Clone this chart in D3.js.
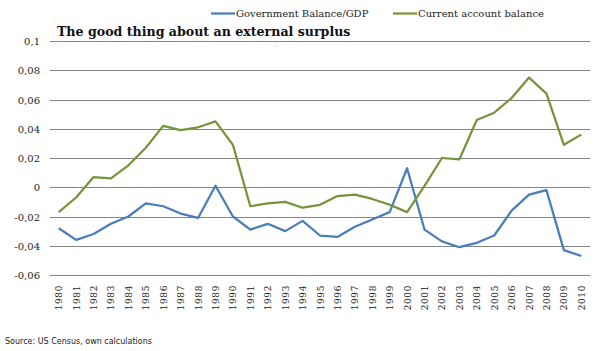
<!DOCTYPE html>
<html>
<head>
<meta charset="utf-8">
<script src="https://cdn.jsdelivr.net/npm/d3@7"></script>
<style>
  body { margin: 0; background: #fff; }
  svg { display: block; }
</style>
</head>
<body>
<div id="container"></div>
<script>
const years = d3.range(1980, 2011).map(String);
const govBalance = [-0.028, -0.036, -0.032, -0.025, -0.020, -0.011, -0.013, -0.018, -0.021, 0.001,
    -0.020, -0.029, -0.025, -0.030, -0.023, -0.033, -0.034, -0.027, -0.022, -0.017,
    0.013, -0.029, -0.037, -0.041, -0.038, -0.033, -0.016, -0.005, -0.002, -0.043, -0.047];
const currentAccount = [-0.017, -0.007, 0.007, 0.006, 0.015, 0.027, 0.042, 0.039, 0.041, 0.045,
    0.029, -0.013, -0.011, -0.010, -0.014, -0.012, -0.006, -0.005, -0.008, -0.012,
    -0.017, 0.001, 0.020, 0.019, 0.046, 0.051, 0.061, 0.075, 0.064, 0.029, 0.036];
const yTicks = [-0.06, -0.04, -0.02, 0, 0.02, 0.04, 0.06, 0.08, 0.1];
const seriesNames = ["Government Balance/GDP", "Current account balance"];
const colors = ["#4a7ebb", "#77933c"];

const width = 603, height = 351;
const plot = { left: 50, right: 590, top: 41, bottom: 275 };

const svg = d3.select("#container").append("svg")
    .attr("width", width)
    .attr("height", height);

const x = d3.scaleBand().domain(years).range([plot.left, plot.right]);
const y = d3.scaleLinear().domain([-0.06, 0.1]).range([plot.bottom, plot.top]);

const fmt = v => (v === 0 ? "0" : d3.format(v === 0.1 ? ".1f" : ".2f")(v)).replace(".", ",").replace("−", "-");

// gridlines
svg.append("g")
    .selectAll("line")
    .data(yTicks)
    .join("line")
    .attr("x1", plot.left)
    .attr("x2", plot.right)
    .attr("y1", d => Math.round(y(d)) + 0.5)
    .attr("y2", d => Math.round(y(d)) + 0.5)
    .attr("stroke", "#858585")
    .attr("stroke-width", 1);

// y tick labels
svg.append("g")
    .selectAll("text")
    .data(yTicks)
    .join("text")
    .attr("x", 40)
    .attr("y", d => y(d) + 4)
    .attr("text-anchor", "end")
    .style("font-family", "'DejaVu Serif', serif")
    .style("font-size", "10px")
    .style("fill", "#222")
    .text(fmt);

// x labels
svg.append("g")
    .selectAll("text")
    .data(years)
    .join("text")
    .attr("transform", d => `translate(${x(d) + x.bandwidth() / 2 + 3.5},${plot.bottom + 10}) rotate(-90)`)
    .attr("text-anchor", "end")
    .style("font-family", "'DejaVu Serif', serif")
    .style("font-size", "9px")
    .style("letter-spacing", "0.6px")
    .style("fill", "#222")
    .text(d => d);

const line = d3.line()
    .x((d, i) => x(years[i]) + x.bandwidth() / 2)
    .y(d => y(d));

[govBalance, currentAccount].forEach((s, i) => {
    svg.append("path")
        .datum(s)
        .attr("fill", "none")
        .attr("stroke", colors[i])
        .attr("stroke-width", 2.25)
        .attr("stroke-linejoin", "round")
        .attr("d", line);
});

// legend
const legendX = [211, 393];
seriesNames.forEach((name, i) => {
    svg.append("line")
        .attr("x1", legendX[i])
        .attr("x2", legendX[i] + 24)
        .attr("y1", 13.5)
        .attr("y2", 13.5)
        .attr("stroke", colors[i])
        .attr("stroke-width", 2.25);
    svg.append("text")
        .attr("x", legendX[i] + 25)
        .attr("y", 17)
        .style("font-family", "'DejaVu Serif', serif")
        .style("font-size", "10px")
        .style("fill", "#222")
        .text(name);
});

// title
svg.append("text")
    .attr("x", 57)
    .attr("y", 36)
    .style("font-family", "'DejaVu Serif', serif")
    .style("font-size", "12.6px")
    .style("font-weight", "bold")
    .style("fill", "#111")
    .text("The good thing about an external surplus");

// source
svg.append("text")
    .attr("x", 5)
    .attr("y", 344)
    .style("font-family", "'DejaVu Sans', sans-serif")
    .style("font-size", "8px")
    .style("fill", "#222")
    .text("Source: US Census, own calculations");
</script>
</body>
</html>
